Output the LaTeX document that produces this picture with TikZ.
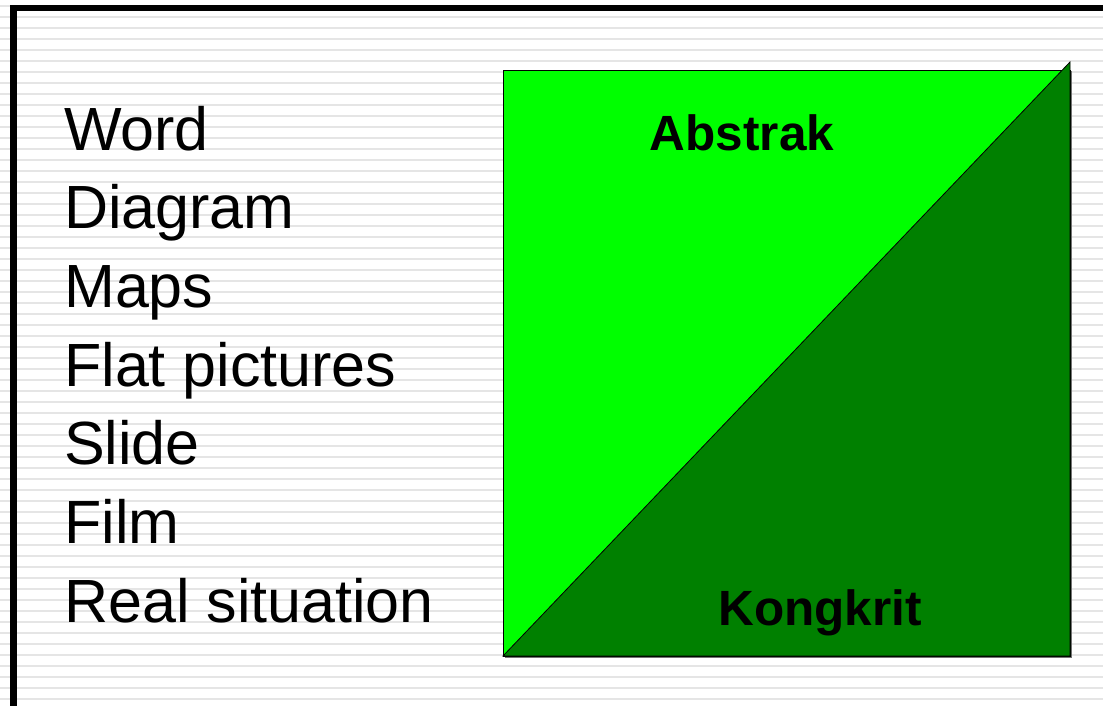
\documentclass[tikz,border=0pt]{standalone}
\usepackage{fontspec}
\setmainfont{Liberation Sans}
\usetikzlibrary{calc}
\begin{document}
\begin{tikzpicture}[x=1pt,y=-1pt,
  stripe/.style={draw=black!10,line width=2.7pt},
  frame/.style={draw=black,line width=6.5pt},
  item/.style={anchor=base west,inner sep=0pt,font=\fontsize{61}{61}\selectfont},
  corner/.style={anchor=base,inner sep=0pt,font=\bfseries\fontsize{49.5}{49.5}\selectfont},
  light/.style={fill=lightgreen,draw=black,line width=0.8pt},
  dark/.style={fill=darkgreen,draw=black,line width=0.8pt,line join=miter}]
\definecolor{lightgreen}{RGB}{0,255,0}
\definecolor{darkgreen}{RGB}{0,128,0}
% page and ruled background
\useasboundingbox (0,0) rectangle (1103,706);
\fill[white] (0,0) rectangle (1103,706);
\foreach \k in {0,...,63} {
  \draw[stripe] (0,{6+11*\k}) -- (1103,{6+11*\k});
}
% heavy frame along the top and left
\draw[frame] (13.25,706) -- (13.25,8.25) -- (1103,8.25);
% list of media
\node[item] (word) at (64,150) {Word};
\node[item] (diagram) at (64,228.7) {Diagram};
\node[item] (maps) at (64,307.3) {Maps};
\node[item] (flat) at (64,386) {Flat pictures};
\node[item] (slide) at (64,464.7) {Slide};
\node[item] (film) at (64,543.3) {Film};
\node[item] (real) at (64,622) {Real situation};
% square split along its diagonal
\coordinate (sqtl) at (503,70);
\coordinate (sqbl) at (503,656);
\coordinate (sqbr) at (1070,656);
\coordinate (apex) at (1070,62);
\fill[black!55] ($(sqtl)+(1.5,1.5)$) rectangle ($(sqbr)+(1.5,1.5)$);
\path[light] (sqtl) rectangle (sqbr);
\path[dark] (sqbl) -- (apex) -- (sqbr) -- cycle;
\node[corner] (abstrak) at (742,150) {Abstrak};
\node[corner] (kongkrit) at (820,625) {Kongkrit};
\end{tikzpicture}
\end{document}
